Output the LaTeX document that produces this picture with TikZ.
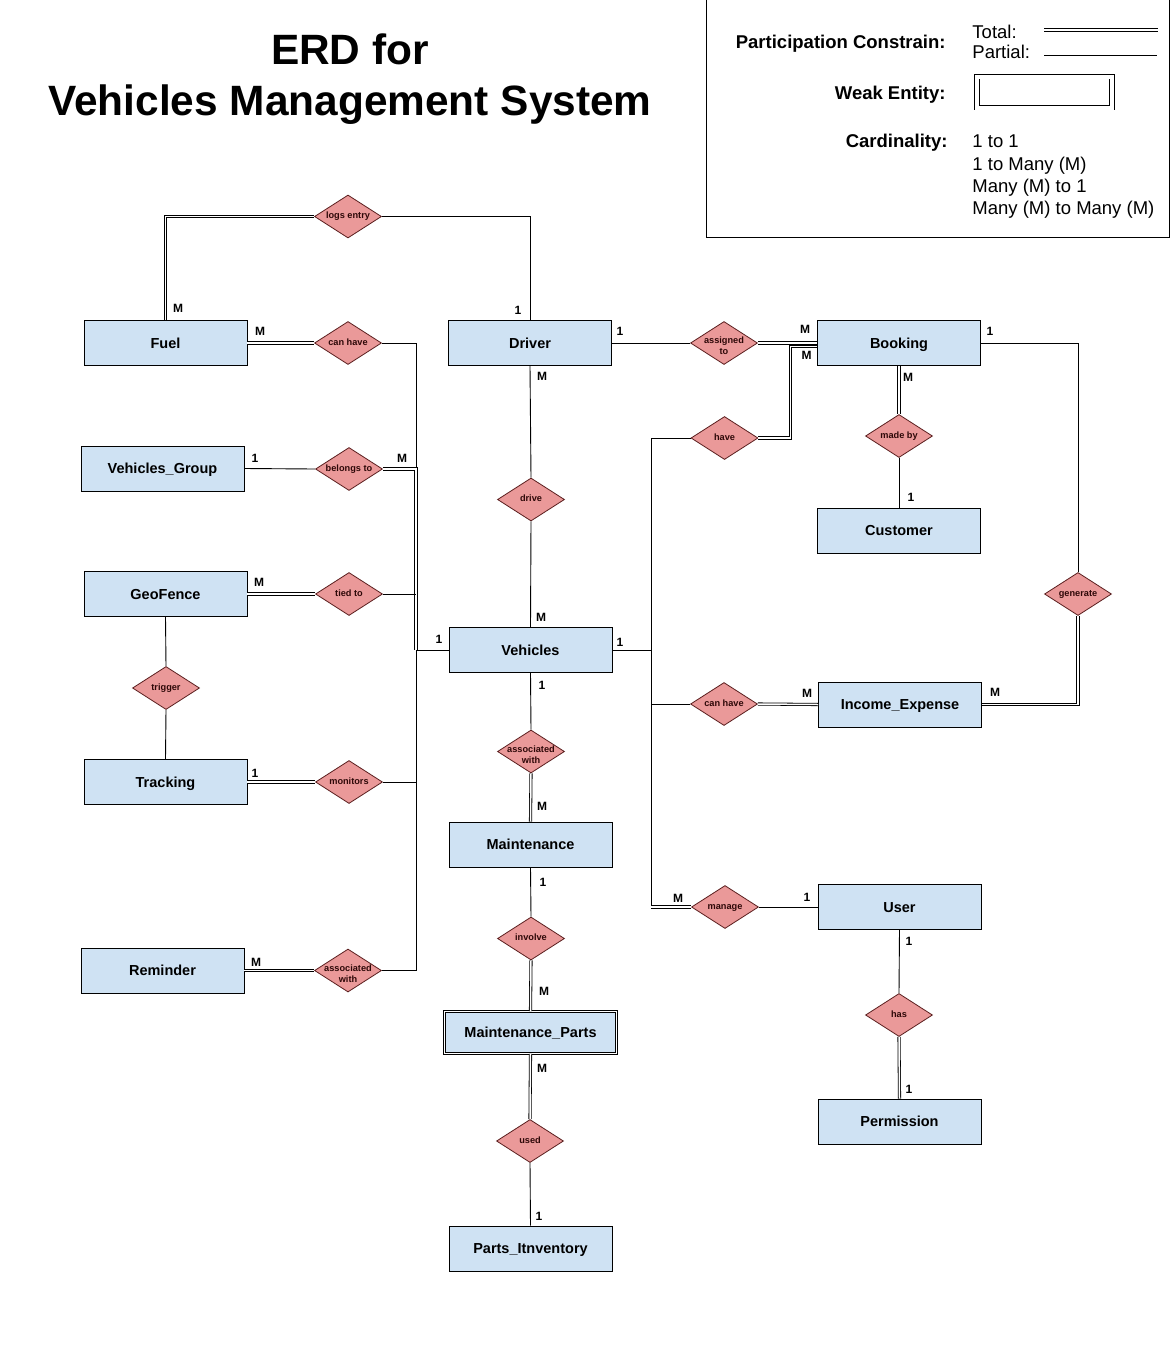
\documentclass[tikz,border=0pt]{standalone}
\usepackage{fontspec}
\setmainfont{Liberation Sans}
\usepackage{tikz}
\usetikzlibrary{shapes.geometric}
\usepackage{xcolor}
\definecolor{entfill}{HTML}{CFE2F3}
\definecolor{relfill}{HTML}{EA9999}
\definecolor{reldraw}{HTML}{5B1F1F}
\definecolor{reltext}{HTML}{2E0808}

\begin{document}
\begin{tikzpicture}[x=1pt, y=-1pt, line width = 0.9pt,
  entity/.style={draw, fill=entfill, minimum width=163pt, minimum height=45pt, inner sep=0pt, text height=10.4pt, text depth=0pt, font=\bfseries\fontsize{14.5}{17}\selectfont},
  weak/.style={entity, double, double distance=1.8pt, minimum width=172pt, minimum height=42pt},
  rel/.style={diamond, aspect=1.56, draw=reldraw, line width=0.8pt, fill=relfill, minimum width=67pt, minimum height=43pt, inner xsep=-8pt, inner ysep=0pt, text height=4.8pt, text depth=0pt, align=center, text=reltext, font=\bfseries\fontsize{9.2}{11}\selectfont},
  reltwo/.style={rel, text height=23pt, inner ysep=-1pt},
  total/.style={double, double distance=1.5pt, line width=0.8pt},
  card/.style={font=\bfseries\fontsize{12}{14}\selectfont},
  legend/.style={font=\fontsize{18.5}{22.3}\selectfont, inner sep=0pt},
]
\path[use as bounding box, fill=white] (0,0) rectangle (1172,1358);

% title
\node[anchor=base, font=\bfseries\fontsize{42.4}{50}\selectfont] (title1) at (350,64) {ERD for};
\node[anchor=base, font=\bfseries\fontsize{42.4}{50}\selectfont] (title2) at (350,115) {Vehicles Management System};

% legend
\draw (706,-2) rectangle (1169,237);
\node[legend, anchor=base east, font=\bfseries\fontsize{18.5}{22}\selectfont] (pc) at (946,48.7) {Participation Constrain:};
\node[legend, anchor=base west] (tot) at (972,38.3) {Total:};
\node[legend, anchor=base west] (part) at (972,58.3) {Partial:};
\draw[total] (1044,30) -- (1158,30);
\draw (1044,55) -- (1157,55);
\node[legend, anchor=base east, font=\bfseries\fontsize{18.5}{22}\selectfont] (we) at (946,99) {Weak Entity:};
\node[draw, double, double distance=4pt, line width=0.9pt, minimum width=135pt, minimum height=31pt, inner sep=0pt] (wkey) at (1044.5,92) {};
\node[legend, anchor=base east, font=\bfseries\fontsize{18.5}{22}\selectfont] (card) at (948,147.7) {Cardinality:};
\node[legend, anchor=base west, align=left] (cardlist) at (972,214.6) {1 to 1\\1 to Many (M)\\Many (M) to 1\\Many (M) to Many (M)};  % base = last line

% entities
\node[entity] (fuel) at (165.5,343) {Fuel};
\node[entity] (driver) at (530,343) {Driver};
\node[entity] (booking) at (899,343) {Booking};
\node[entity] (vgroup) at (162.5,468.5) {Vehicles\_Group};
\node[entity] (cust) at (899,530.5) {Customer};
\node[entity] (geo) at (165.5,594) {GeoFence};
\node[entity] (veh) at (530.5,650) {Vehicles};
\node[entity] (income) at (900,704.5) {Income\_Expense};
\node[entity] (track) at (165.5,782) {Tracking};
\node[entity] (maint) at (530.5,844.5) {Maintenance};
\node[entity] (user) at (899.5,907) {User};
\node[entity] (remind) at (162.5,970.5) {Reminder};
\node[weak] (mparts) at (530.5,1032.5) {Maintenance\_Parts};
\node[entity] (perm) at (899.5,1121.5) {Permission};
\node[entity] (parts) at (530.5,1248.5) {Parts\_Itnventory};

% relationships
\node[rel] (logs) at (348,216.5) {logs entry};
\node[rel] (canF) at (348,343) {can have};
\node[rel] (belongs) at (349,469) {belongs to};
\node[rel] (tied) at (349,594) {tied to};
\node[rel] (trigger) at (166,688) {trigger};
\node[rel] (mon) at (349,782) {monitors};
\node[reltwo] (assocR) at (348,970.5) {associated\\with};
\node[reltwo] (assign) at (724,343) {assigned\\to};
\node[rel] (have) at (724.5,438) {have};
\node[rel] (madeby) at (899,436) {made by};
\node[rel] (drive) at (531,499.5) {drive};
\node[rel] (gen) at (1078,594) {generate};
\node[reltwo] (assocV) at (531,751.5) {associated\\with};
\node[rel] (canI) at (724,704) {can have};
\node[rel] (involve) at (531,938.5) {involve};
\node[rel] (manage) at (725,907) {manage};
\node[rel] (has) at (899,1015) {has};
\node[rel] (used) at (530,1141) {used};

% bus points
\coordinate (lbus) at (416,650);
\coordinate (rbus) at (651,650);

% left side
\draw[total] (fuel.north) |- (logs.west);
\draw (logs.east) -| (driver.north);
\draw[total] (fuel.east) -- (canF.west);
\draw (canF.east) -| (lbus);
\draw (vgroup.east) -- (belongs.west);
\draw[total] (belongs.east) -| (lbus);
\draw (lbus) -- (veh.west);
\draw[total] (geo.east) -- (tied.west);
\draw (tied.east) -- (tied.east -| lbus);
\draw (geo.south) -- (trigger.north);
\draw (trigger.south) -- (track.north);
\draw[total] (track.east) -- (mon.west);
\draw (mon.east) -- (mon.east -| lbus);
\draw[total] (remind.east) -- (assocR.west);
\draw (assocR.east) -| (lbus);

% middle
\draw (driver.south) -- (drive.north);
\draw (drive.south) -- (veh.north);
\draw (veh.south) -- (assocV.north);
\draw[total] (assocV.south) -- (maint.north);
\draw (maint.south) -- (involve.north);
\draw[total] (involve.south) -- (mparts.north);
\draw[total] (mparts.south) -- (used.north);
\draw (used.south) -- (parts.north);

% right side
\draw (driver.east) -- (assign.west);
\draw[total] (assign.east) -- (booking.west);
\draw (veh.east) -- (rbus);
\draw (rbus) |- (have.west);
\draw[total] (have.east) -- ++(32,0) |- ([yshift=-3.5pt]booking.west);  % joins Booking just under assigned to
\draw[total] (booking.south) -- (madeby.north);
\draw (madeby.south) -- (cust.north);
\draw (booking.east) -| (gen.north);
\draw[total] (gen.south) |- (income.east);
\draw (rbus) -- (rbus |- manage.west);
\draw (canI.west) -- (canI.west -| rbus);
\draw[total] (canI.east) -- (income.west);
\draw[total] (manage.west) -- (manage.west -| rbus);
\draw (manage.east) -- (user.west);
\draw (user.south) -- (has.north);
\draw[total] (has.south) -- (perm.north);

% cardinalities
\node[card] (kFuelTop) at (178,308) {M};
\node[card] (kDriverTop) at (518,310) {1};
\node[card] (kFuelRight) at (260,331) {M};
\node[card] (kDriverRight) at (620,331) {1};
\node[card] (kBookAssign) at (805,329) {M};
\node[card] (kBookHave) at (806.5,355) {M};
\node[card] (kBookRight) at (990,331) {1};
\node[card] (kDriverBot) at (542,376) {M};
\node[card] (kBookBot) at (908,377) {M};
\node[card] (kGroup) at (255,458) {1};
\node[card] (kBelongs) at (402,458) {M};
\node[card] (kCust) at (911,497) {1};
\node[card] (kGeo) at (259,582) {M};
\node[card] (kVehTop) at (541,617) {M};
\node[card] (kVehLeft) at (439,639) {1};
\node[card] (kVehRight) at (620,642) {1};
\node[card] (kVehBot) at (542,685) {1};
\node[card] (kIncLeft) at (807,693) {M};
\node[card] (kIncRight) at (995,692) {M};
\node[card] (kTrack) at (255,773) {1};
\node[card] (kMaintTop) at (542,806) {M};
\node[card] (kMaintBot) at (543,882) {1};
\node[card] (kManage) at (678,898) {M};
\node[card] (kUserLeft) at (807,897) {1};
\node[card] (kUserBot) at (909,941) {1};
\node[card] (kRemind) at (256,962) {M};
\node[card] (kPartsTop) at (544,991) {M};
\node[card] (kPartsBot) at (542,1068) {M};
\node[card] (kPerm) at (909,1089) {1};
\node[card] (kInv) at (539,1216) {1};
\end{tikzpicture}
\end{document}
